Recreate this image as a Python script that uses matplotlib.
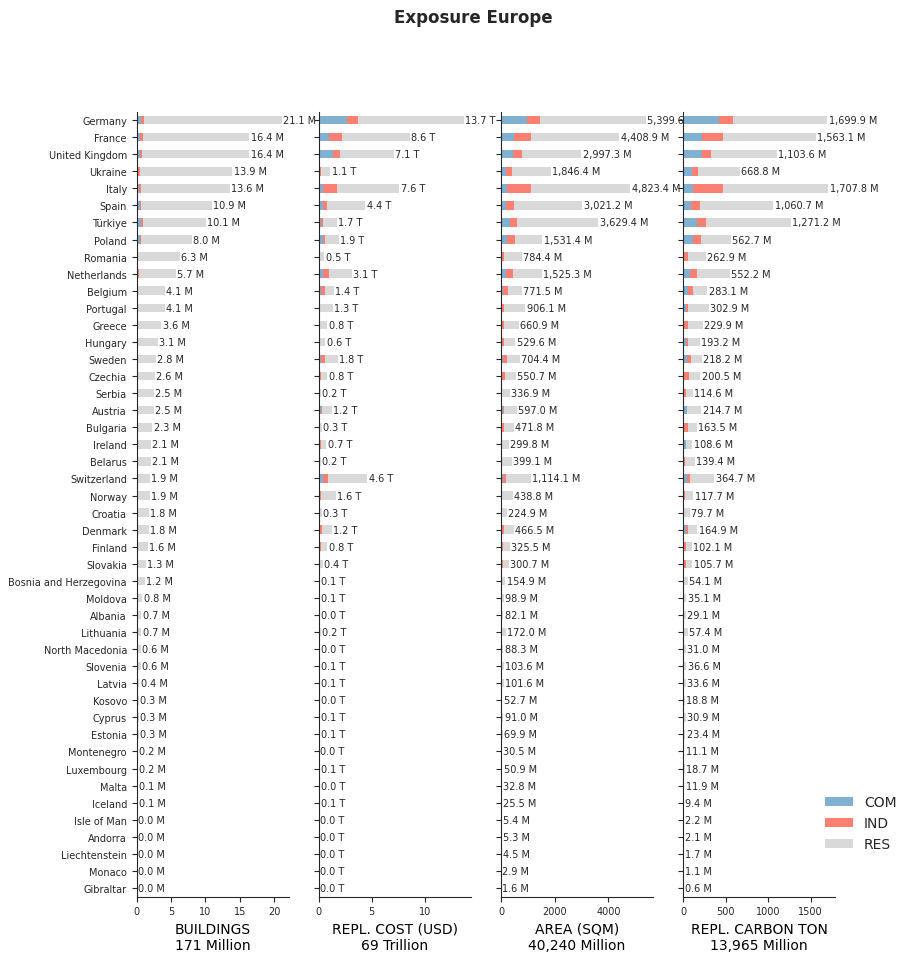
import numpy as np
import pandas as pd
import matplotlib
matplotlib.use('Agg')
import matplotlib.pyplot as plt

countries = ['Germany', 'France', 'United Kingdom', 'Ukraine', 'Italy', 'Spain', 'Türkiye', 'Poland',
             'Romania', 'Netherlands', 'Belgium', 'Portugal', 'Greece', 'Hungary', 'Sweden', 'Czechia',
             'Serbia', 'Austria', 'Bulgaria', 'Ireland', 'Belarus', 'Switzerland', 'Norway', 'Croatia',
             'Denmark', 'Finland', 'Slovakia', 'Bosnia and Herzegovina', 'Moldova', 'Albania', 'Lithuania',
             'North Macedonia', 'Slovenia', 'Latvia', 'Kosovo', 'Cyprus', 'Estonia', 'Montenegro',
             'Luxembourg', 'Malta', 'Iceland', 'Isle of Man', 'Andorra', 'Liechtenstein', 'Monaco', 'Gibraltar']

# buildings (million)
bld_total = [21.1, 16.4, 16.4, 13.9, 13.6, 10.9, 10.1, 8.0, 6.3, 5.7, 4.1, 4.1, 3.6, 3.1, 2.8, 2.6,
             2.5, 2.5, 2.3, 2.1, 2.1, 1.9, 1.9, 1.8, 1.8, 1.6, 1.3, 1.2, 0.8, 0.7, 0.7, 0.6, 0.6, 0.4,
             0.3, 0.3, 0.3, 0.2, 0.2, 0.1, 0.1, 0.04, 0.04, 0.02, 0.01, 0.01]
bld_com = [0.69, 0.49, 0.44, 0.15, 0.29, 0.54, 0.59, 0.54, 0.02, 0.15, 0.03, 0.2, 0.2, 0.03, 0.15, 0.03,
           0.02, 0.03, 0.02, 0.02, 0.02, 0.03, 0.02, 0.02, 0.02, 0.02, 0.01, 0.01, 0.01, 0.01, 0.01, 0.01,
           0.01, 0.005, 0.005, 0.005, 0.005, 0.003, 0.003, 0.002, 0.002, 0.001, 0.001, 0.001, 0.0005, 0.0005]
bld_ind = [0.39, 0.39, 0.29, 0.34, 0.34, 0.1, 0.29, 0.1, 0.2, 0.15, 0.03, 0.02, 0.02, 0.02, 0.1, 0.03,
           0.02, 0.02, 0.02, 0.02, 0.02, 0.02, 0.15, 0.02, 0.02, 0.02, 0.01, 0.01, 0.01, 0.01, 0.01, 0.01,
           0.01, 0.005, 0.005, 0.005, 0.005, 0.003, 0.003, 0.002, 0.002, 0.001, 0.001, 0.001, 0.0005, 0.0005]

# replacement cost (trillion USD)
cost_total = [13.7, 8.6, 7.1, 1.1, 7.6, 4.4, 1.7, 1.9, 0.5, 3.1, 1.4, 1.3, 0.8, 0.6, 1.8, 0.8,
              0.2, 1.2, 0.3, 0.7, 0.2, 4.6, 1.6, 0.3, 1.2, 0.8, 0.4, 0.1, 0.1, 0.04, 0.2, 0.04, 0.1, 0.1,
              0.03, 0.1, 0.1, 0.02, 0.1, 0.04, 0.1, 0.01, 0.01, 0.01, 0.01, 0.003]
cost_com = [2.7, 1.0, 1.33, 0.13, 0.44, 0.38, 0.22, 0.38, 0.01, 0.38, 0.22, 0.05, 0.03, 0.03, 0.25, 0.05,
            0.01, 0.25, 0.01, 0.15, 0.01, 0.44, 0.15, 0.02, 0.15, 0.05, 0.02, 0.01, 0.005, 0.003, 0.01, 0.003,
            0.01, 0.01, 0.002, 0.01, 0.01, 0.001, 0.01, 0.003, 0.01, 0.001, 0.001, 0.001, 0.001, 0.0003]
cost_ind = [1.0, 1.15, 0.63, 0.1, 1.24, 0.35, 0.13, 0.25, 0.04, 0.54, 0.32, 0.1, 0.1, 0.05, 0.38, 0.2,
            0.02, 0.03, 0.03, 0.02, 0.01, 0.38, 0.05, 0.02, 0.19, 0.2, 0.04, 0.01, 0.005, 0.003, 0.02, 0.003,
            0.01, 0.01, 0.002, 0.005, 0.01, 0.001, 0.005, 0.002, 0.005, 0.001, 0.001, 0.001, 0.001, 0.0003]

# area (million sqm)
area_total = [5399.6, 4408.9, 2997.3, 1846.4, 4823.4, 3021.2, 3629.4, 1531.4, 784.4, 1525.3, 771.5, 906.1,
              660.9, 529.6, 704.4, 550.7, 336.9, 597.0, 471.8, 299.8, 399.1, 1114.1, 438.8, 224.9, 466.5,
              325.5, 300.7, 154.9, 98.9, 82.1, 172.0, 88.3, 103.6, 101.6, 52.7, 91.0, 69.9, 30.5, 50.9,
              32.8, 25.5, 5.4, 5.3, 4.5, 2.9, 1.6]
area_com = [980, 490, 454, 196, 233, 196, 343, 233, 10, 172, 86, 37, 25, 37, 86, 49,
            5, 86, 5, 49, 5, 86, 5, 5, 49, 5, 5, 5, 3, 3, 5, 3, 5, 5, 2, 4, 4, 1, 3,
            2, 1, 0.3, 0.3, 0.3, 0.2, 0.1]
area_ind = [466, 626, 331, 221, 883, 294, 258, 294, 110, 282, 184, 86, 98, 86, 147, 110,
            49, 10, 123, 5, 5, 110, 49, 5, 74, 86, 60, 8, 5, 4, 30, 5, 8, 8, 3, 3, 5, 1, 2,
            2, 2, 0.3, 0.3, 0.3, 0.1, 0.1]

# replacement carbon (million ton)
carb_total = [1699.9, 1563.1, 1103.6, 668.8, 1707.8, 1060.7, 1271.2, 562.7, 262.9, 552.2, 283.1, 302.9,
              229.9, 193.2, 218.2, 200.5, 114.6, 214.7, 163.5, 108.6, 139.4, 364.7, 117.7, 79.7, 164.9,
              102.1, 105.7, 54.1, 35.1, 29.1, 57.4, 31.0, 36.6, 33.6, 18.8, 30.9, 23.4, 11.1, 18.7,
              11.9, 9.4, 2.2, 2.1, 1.7, 1.1, 0.6]
carb_com = [420, 224, 224, 108, 112, 92, 164, 116, 2, 84, 56, 32, 12, 32, 44, 12,
            2, 44, 4, 32, 2, 44, 2, 2, 32, 4, 4, 2, 1, 1, 2, 1, 2, 2, 1, 2, 2, 0.5, 1,
            0.5, 0.5, 0.1, 0.1, 0.1, 0.05, 0.03]
carb_ind = [164, 240, 108, 68, 352, 108, 108, 96, 56, 80, 60, 24, 44, 24, 48, 56,
            32, 4, 56, 2, 20, 36, 20, 2, 24, 32, 32, 3, 2, 1, 12, 2, 3, 2, 1, 1, 2, 0.5, 1,
            0.5, 0.5, 0.1, 0.1, 0.1, 0.05, 0.03]

panel_titles = ['BUILDINGS\n171 Million', 'REPL. COST (USD)\n69 Trillion',
                'AREA (SQM)\n40,240 Million', 'REPL. CARBON TON\n13,965 Million']
label_fmts = ['{:.1f} M', '{:.1f} T', '{:,.1f} M', '{:,.1f} M']
colors = ['#80b1d3', '#fb8072', '#d9d9d9']

panels = [(bld_total, bld_com, bld_ind), (cost_total, cost_com, cost_ind),
          (area_total, area_com, area_ind), (carb_total, carb_com, carb_ind)]

plt.rcParams['text.color'] = '0.15'
plt.rcParams['axes.edgecolor'] = '0.15'
plt.rcParams['xtick.color'] = '0.15'
plt.rcParams['ytick.color'] = '0.15'

fig, axes = plt.subplots(1, 4, figsize=(9.11, 9.62), dpi=100)
fig.subplots_adjust(left=0.150, right=0.917, top=0.883, bottom=0.067, wspace=0.197)

for i, (ax, (total, com, ind)) in enumerate(zip(axes, panels)):
    total = np.array(total, dtype=float)
    com = np.array(com, dtype=float)
    ind = np.array(ind, dtype=float)
    df = pd.DataFrame({'COM': com, 'IND': ind, 'RES': total - com - ind}, index=countries)
    df.plot.barh(stacked=True, ax=ax, color=colors, width=0.5, legend=False)
    ax.set_ylim(len(countries) - 0.5, -0.5)
    ax.bar_label(ax.containers[-1], labels=[label_fmts[i].format(v) for v in total],
                 fontsize=7, padding=1)
    ax.spines['top'].set_visible(False)
    ax.spines['right'].set_visible(False)
    ax.tick_params(axis='x', labelsize=7)
    ax.tick_params(axis='y', labelsize=7)
    ax.set_xlabel(panel_titles[i], fontsize=10)
    if i > 0:
        ax.set_yticklabels([])

handles, labels = axes[0].get_legend_handles_labels()
fig.legend(handles, labels, loc='center left', bbox_to_anchor=(0.892, 0.143),
           frameon=False, fontsize=10)
fig.suptitle('Exposure Europe', fontweight='bold', fontsize=12, x=0.52, y=0.981, va='center')

fig.savefig('out.png', dpi=100)
